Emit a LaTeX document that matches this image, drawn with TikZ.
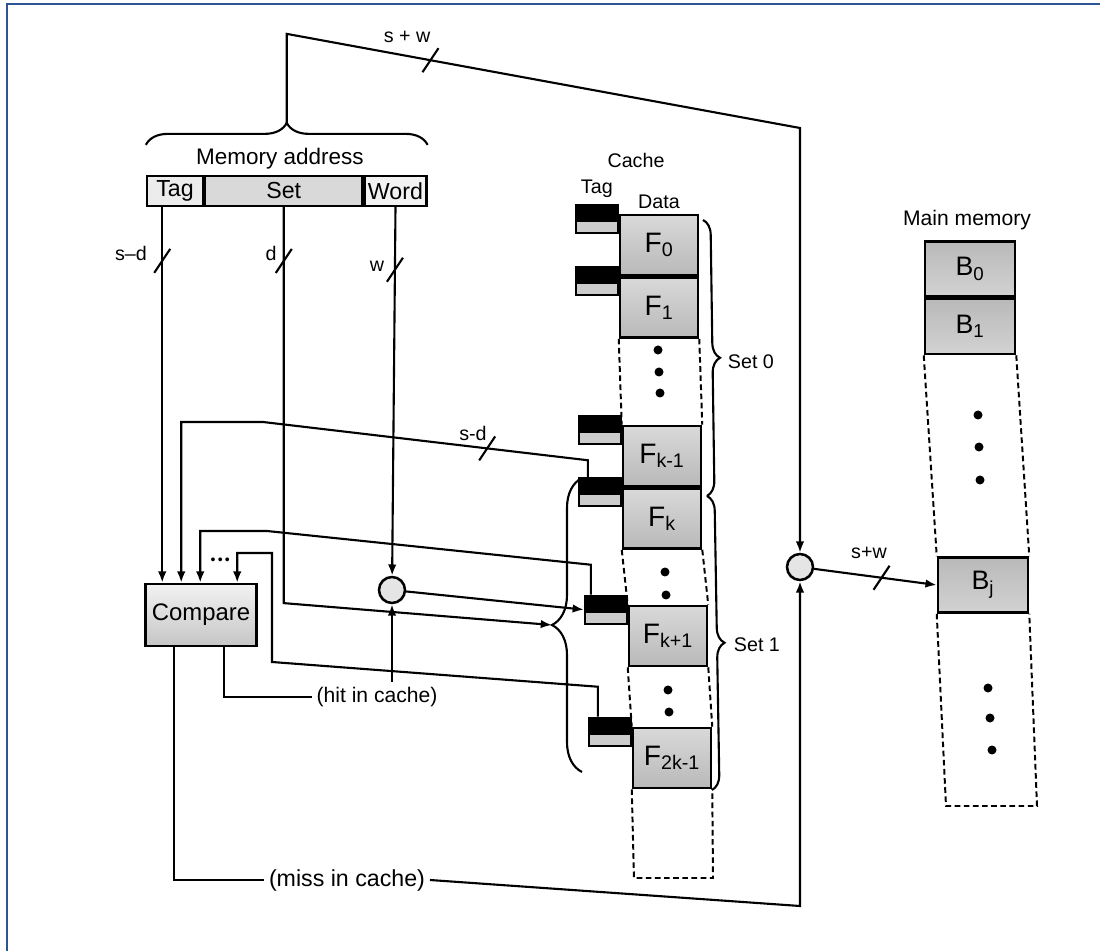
\documentclass[tikz,border=0pt]{standalone}
\usepackage{fontspec}
\setmainfont{Liberation Sans}
\usetikzlibrary{arrows.meta, positioning, decorations.pathreplacing, calc}
\definecolor{framebl}{RGB}{47,84,150}
\def\pxu{0.025}
\newcommand\busmark[1]{\draw[wire] (#1) ++(-8,12) -- ++(16,-24);}

\begin{document}
\begin{tikzpicture}[x=0.025cm, y=-0.025cm,
  every node/.style={font=\fontsize{14}{16}\selectfont},
  wire/.style={line width=1.5pt},
  arr/.style={wire, -{Latex[length=8pt,width=6pt]}},
  col/.style={line width=1.4pt, dash pattern=on 4pt off 2.5pt},
  fld/.style={draw, line width=1.6pt, minimum height=30*\pxu cm, inner sep=0pt,
              font=\fontsize{16.5}{18}\selectfont},
  frm/.style={draw, line width=1.8pt, minimum width=78*\pxu cm, minimum height=60*\pxu cm,
              inner sep=0pt, top color=gray!30, bottom color=gray!55,
              font=\fontsize{20}{22}\selectfont},
  tagc/.style={draw, line width=1.3pt, minimum width=42*\pxu cm, minimum height=28*\pxu cm,
               inner sep=0pt, fill=gray!40},
  blk/.style={draw, line width=1.8pt, minimum width=90*\pxu cm, minimum height=55*\pxu cm,
              inner sep=0pt, top color=gray!55, bottom color=gray!35,
              font=\fontsize{19}{21}\selectfont},
  sel/.style={circle, draw, line width=1.8pt, fill=gray!20, minimum size=26*\pxu cm, inner sep=0pt},
  brc/.style={wire, decorate, decoration={brace, amplitude=#1}}]

  \useasboundingbox (0,0) rectangle (1100,951);
  \draw[line width=2pt, framebl] (7,951) -- (7,4) -- (1100,4);

  % address fields
  \node[fld, fill=gray!15, minimum width=56*\pxu cm] (tag) at (175,191) {Tag};
  \node[fld, fill=gray!30, minimum width=157*\pxu cm, right=0pt of tag] (set) {Set};
  \node[fld, fill=gray!10, minimum width=62*\pxu cm, right=0pt of set] (word) {Word};
  \node[font=\fontsize{16}{18}\selectfont] (maddr) at (280,159) {Memory address};
  \draw[brc=0.55cm] ($(tag.north west)+(0,-30)$) -- ($(word.north east)+(0,-30)$);
  \coordinate (mtip) at ($(tag.north west)!.5!(word.north east)+(0,-52)$);

  % compare and selectors
  \node[draw, line width=1.8pt, minimum width=111*\pxu cm, minimum height=62*\pxu cm,
        top color=gray!10, bottom color=gray!45, font=\fontsize{17}{19}\selectfont] (cmp) at (201,615) {Compare};
  \coordinate (in1) at ($(cmp.north west)+(18,0)$);
  \coordinate (in2) at ($(cmp.north west)+(37,0)$);
  \coordinate (in3) at ($(cmp.north west)+(56,0)$);
  \coordinate (in4) at ($(cmp.north west)+(93,0)$);
  \node[font=\fontsize{10}{11}\selectfont] (cdots) at ($(cmp.north west)+(76,-22)$)
    {\textbullet\kern1.5pt\textbullet\kern1.5pt\textbullet};
  \node[sel] (sel1) at (392,590) {};
  \node[sel] (sel2) at (800,567) {};
  \node[font=\fontsize{15}{17}\selectfont] (hit) at (377,697) {(hit in cache)};
  \node[font=\fontsize{16.5}{18}\selectfont] (miss) at (347,880) {(miss in cache)};

  % cache
  \node[frm] (f0) at (659,245) {F\textsubscript{0}};
  \node[frm, below=0pt of f0] (f1) {F\textsubscript{1}};
  \node[frm] (fkm) at (662,456) {F\textsubscript{k-1}};
  \node[frm, below=0pt of fkm] (fk) {F\textsubscript{k}};
  \node[frm] (fkp) at (668,636) {F\textsubscript{k+1}};
  \node[frm] (f2k) at (672,758) {F\textsubscript{2k-1}};
  \foreach \f/\t in {f0/t0, f1/t1, fkm/tkm, fk/tk, fkp/tkp, f2k/t2k} {
    \node[tagc, anchor=north east] (\t) at ($(\f.north west)+(0,-10)$) {};
    \fill (\t.north west) rectangle ($(\t.east)+(0,3)$);
  }
  \node (cache) at (636,160) {Cache};
  \node[above=1pt of t0] (ctag) {Tag};
  \node[above=0pt of f0] (cdata) {Data};
  \coordinate (cbl) at (634,878);
  \coordinate (cbr) at (713,878);
  \draw[col] (f1.south west) -- (fkm.north west) (f1.south east) -- (fkm.north east);
  \draw[col] (fk.south west) -- (fkp.north west) (fk.south east) -- (fkp.north east);
  \draw[col] (fkp.south west) -- (f2k.north west) (fkp.south east) -- (f2k.north east);
  \draw[col] (f2k.south west) -- (cbl) -- (cbr) -- (f2k.south east);
  \foreach \x/\y in {658/350, 659/372, 660/393, 665/572, 666/595, 668/690, 669/712}
    \fill (\x,\y) circle[radius=4.5];

  % set braces
  \coordinate (sb) at (707,496);
  \draw[brc=0.375cm] (703,220) -- (sb);
  \draw[brc=0.375cm] (sb) -- (712,790);
  \node[anchor=west] (set0) at (723,362) {Set 0};
  \node[anchor=west] (set1) at (729,645) {Set 1};
  \coordinate (s1a) at (582,772);
  \coordinate (s1b) at (582,478);
  \draw[brc=0.75cm] (s1a) -- (s1b);
  \coordinate (s1tip) at ($(s1a)!.5!(s1b)+(-30,0)$);

  % main memory
  \node[blk] (b0) at (970,269) {B\textsubscript{0}};
  \node[blk, below=0pt of b0] (b1) {B\textsubscript{1}};
  \node[blk] (bj) at (983,585) {B\textsubscript{j}};
  \node[font=\fontsize{15}{17}\selectfont] (mmem) at (967,220) {Main memory};
  \coordinate (mbl) at (946,806);
  \coordinate (mbr) at (1037,806);
  \draw[col] (b1.south west) -- (bj.north west) (b1.south east) -- (bj.north east);
  \draw[col] (bj.south west) -- (mbl) -- (mbr) -- (bj.south east);
  \foreach \x/\y in {978/415, 979/447, 980/480, 988/688, 990/718, 992/750}
    \fill (\x,\y) circle[radius=4.5];

  % address lines
  \coordinate (topr) at (800,128);
  \draw[arr] (mtip) -- ++(0,-89) -- coordinate[pos=.28] (swtk) (topr) -- (sel2);
  \draw[arr] (tag.south -| in1) -- coordinate[pos=.143] (sdtk) (in1);
  \draw[arr] (set.south) -- coordinate[pos=.136] (dtk) ++(0,396) -- (s1tip);
  \draw[arr] (word.south) -- coordinate[pos=.17] (wtk) (sel1);
  \draw[arr] (sel1) -- (tkp.west);
  \draw[arr] (sel2) -- coordinate[pos=.55] (swtk2) (bj.west);

  % tag lines to compare
  \draw[arr] ($(tk.north west)+(10,0)$) -- ++(0,-17) -- coordinate[pos=.31] (sdtk2) (263,422) -| (in2);
  \draw[arr] ($(tkp.north west)+(7,0)$) -- ++(0,-30) -- (267,531) -| (in3);
  \draw[arr] ($(t2k.north west)+(10,0)$) -- ++(0,-30) -- (272,662) -- (272,553) -| (in4);

  % hit / miss
  \draw[wire] ($(cmp.south west)+(80,0)$) |- (hit.west);
  \draw[arr] (hit.north -| sel1) -- (sel1);
  \coordinate (mbend) at (800,906);
  \draw[wire] ($(cmp.south west)+(30,0)$) |- (miss.west);
  \draw[arr] (miss.east) -- (mbend) -- (sel2);

  % bus widths
  \busmark{swtk}
  \busmark{sdtk}
  \busmark{dtk}
  \busmark{wtk}
  \busmark{sdtk2}
  \busmark{swtk2}
  \node (lsw) at (407,37) {s + w};
  \node (lsd) at (131,253) {s--d};
  \node (ld) at (271,253) {d};
  \node (lw) at (377,266) {w};
  \node (lsd2) at (473,433) {s-d};
  \node (lsw2) at (869,553) {s+w};

\end{tikzpicture}
\end{document}
